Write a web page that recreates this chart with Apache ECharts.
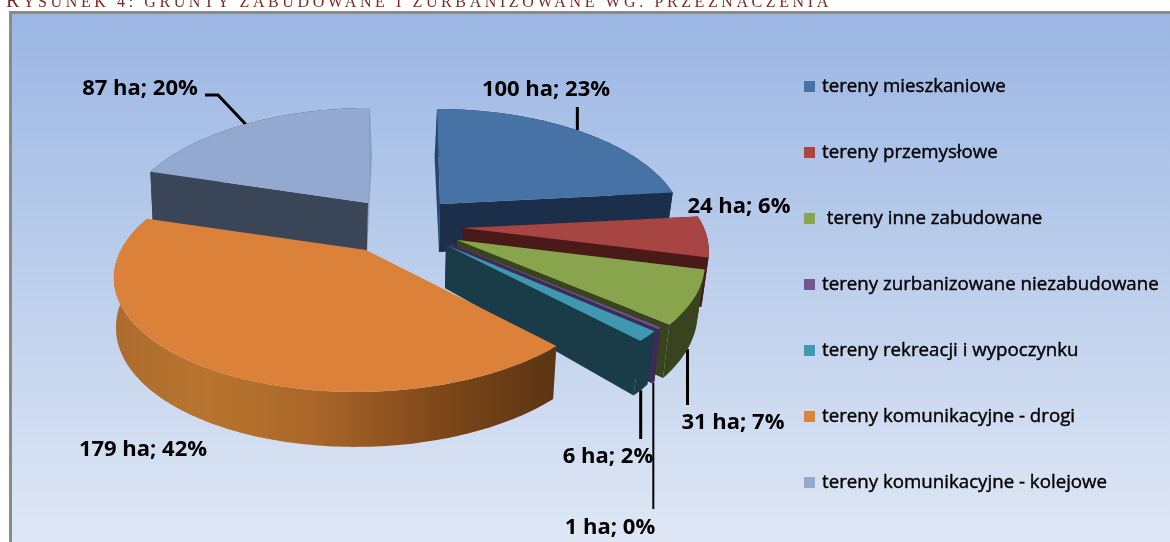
<!DOCTYPE html>
<html>
<head>
<meta charset="utf-8">
<title>Rysunek 4</title>
<script src="https://cdn.jsdelivr.net/npm/echarts@6/dist/echarts.min.js"></script>
<style>
html, body { margin: 0; padding: 0; background: #fff; overflow: hidden; }
#chart { position: absolute; left: 0; top: 0; width: 1170px; height: 542px; }
#caption {
    position: absolute; left: 6px; top: -11px; z-index: 2; white-space: nowrap;
    font: 16px "Liberation Serif", serif; letter-spacing: 3.6px; color: #7b2a22;
}
#caption b { font-weight: normal; font-size: 20px; }
</style>
</head>
<body>
<div id="caption"><b>R</b>YSUNEK 4: GRUNTY ZABUDOWANE I ZURBANIZOWANE WG. PRZEZNACZENIA</div>
<div id="chart"></div>
<script>
// values
const categories = ['tereny mieszkaniowe', 'tereny przemysłowe', ' tereny inne zabudowane',
    'tereny zurbanizowane niezabudowane', 'tereny rekreacji i wypoczynku',
    'tereny komunikacyjne - drogi', 'tereny komunikacyjne - kolejowe']
const hectares = [100, 24, 31, 1, 6, 179, 87]
const percents = [23, 6, 7, 0, 2, 42, 20]

const topColors = ['#4672a6', '#a74543', '#88a44c', '#6f5290', '#3f97b0', '#db8139', '#93a9cf']
const legendColors = ['#4572a7', '#aa4643', '#89a54e', '#71588f', '#4198af', '#db843d', '#93a9cf']
const cutColors = ['#1b2f4a', '#4a1a18', '#39441e', '#3b2c55', '#1a3c48', '#5a3514', '#3a4557']
const rimColors = ['#1b2f4a', '#6e2220', '#39441e', '#3b2c55', '#1a3c48', null, '#3a4557']

// exploded slices: where each apex sits and how it is projected
const sliceLayout = [
    {ax: 440, ay: 204, a: 239, lean: -3, depth: 48, sag: 10, shrink: 0.025, cutShift: -1.5, cuts: true},
    {ax: 463, ay: 228, a: 241, lean: 0, depth: 47, sag: 10, shrink: 0.025, cutShift: 0, cuts: true},
    {ax: 457, ay: 240, a: 243, lean: 0, depth: 47, sag: 10, shrink: 0.025, cutShift: 0, cuts: true},
    {ax: 450, ay: 243, a: 241, lean: 0, depth: 45, sag: 14, shrink: 0.025, cutShift: 0, cuts: true},
    {ax: 446, ay: 245, a: 241, lean: 0, depth: 43, sag: 16, shrink: 0.03, cutShift: 0, cuts: true},
    {ax: 366, ay: 250, a: 245, lean: 10, depth: 48, sag: 7, shrink: 0.012, cutShift: 0, cuts: false},
    {ax: 368, ay: 203, a: 241, lean: 2, depth: 49, sag: 0, shrink: 0.015, cutShift: 3, cuts: true}
]
const drawOrder = [1, 2, 3, 4, 5, 6, 0]
const ellipseB = 113.8
const perspective = 0.198

const labelPos = [[546, 90], [739, 207], [733, 423], [610, 528], [608, 457], [143, 450], [140, 89]]
// leader ends, the start is taken from the rim at the middle of the slice
const leaderEnds = [[[null, 107]], null, [[null, 405]], [[null, 509]], [[null, 439]], null, [[218, 95], [205, 95]]]
const leaderWidths = [3, 0, 3, 2, 3, 0, 3]

const total = hectares.reduce((s, v) => s + v, 0)

function project(i, deg) {
    let l = sliceLayout[i]
    let t = deg * Math.PI / 180
    let u = Math.sin(t), v = Math.cos(t)
    let s = 1 / (1 + perspective * v)
    return {
        x: l.ax + l.a * u * s + l.lean * v,
        y: l.ay - ellipseB * v * s,
        v: v
    }
}

function lower(i, p) {
    let l = sliceLayout[i]
    return [l.ax + (p.x - l.ax) * (1 - l.shrink) - 1, p.y + l.depth - l.sag * Math.min(p.v, 0)]
}

function renderSlice(i, api) {
    let l = sliceLayout[i]
    let before = 0
    for (let k = 0; k < i; k++) before += hectares[k]
    let start = before / total * 360
    let end = start + api.value(0) / total * 360

    let rim = []
    let n = Math.max(2, Math.ceil(end - start))
    for (let k = 0; k <= n; k++) rim.push(project(i, start + (end - start) * k / n))
    let topRim = rim.map(p => [p.x, p.y])
    let lowRim = rim.map(p => lower(i, p))
    let apex = [l.ax, l.ay]
    let apexLow = [l.ax - 1, l.ay + l.depth]

    let children = []

    // leader goes under the slice
    if (leaderEnds[i]) {
        let mid = project(i, (start + end) / 2)
        let from = mid.v < 0 ? lower(i, mid) : [mid.x, mid.y]
        let pts = [from].concat(leaderEnds[i].map(p => [p[0] === null ? from[0] : p[0], p[1]]))
        children.push({
            type: 'polyline',
            shape: {points: pts},
            style: {stroke: '#000', lineWidth: leaderWidths[i], fill: null}
        })
    }

    // outer wall
    let rimFill = rimColors[i]
    if (rimFill === null) {
        rimFill = {
            type: 'linear', x: 118, y: 0, x2: 556, y2: 0, global: true,
            colorStops: [
                {offset: 0, color: '#ad6c2e'},
                {offset: 0.2, color: '#b8752f'},
                {offset: 0.45, color: '#a96629'},
                {offset: 0.75, color: '#7c4619'},
                {offset: 1, color: '#5a3514'}
            ]
        }
    }
    children.push({
        type: 'polygon',
        shape: {points: topRim.concat(lowRim.slice().reverse())},
        style: {fill: rimFill}
    })

    // the two cut faces, the one further back first
    if (l.cuts) {
        let cuts = [0, n]
        if (rim[n].v > rim[0].v) cuts.reverse()
        cuts.forEach(k => {
            let back = rim[k].v > 0.6
            let low = lowRim[k]
            let fill = cutColors[i]
            if (back && i === 0) fill = '#26466e'
            if (back && i === 6) fill = '#87a1c6'
            children.push({
                type: 'polygon',
                shape: {points: [topRim[k], apex, apexLow, [low[0] + (back ? l.cutShift : 0), low[1]]]},
                style: {fill: fill}
            })
        })
    }

    // top face
    children.push({
        type: 'polygon',
        shape: {points: [apex].concat(topRim)},
        style: {fill: topColors[i]}
    })

    children.push({
        type: 'text',
        style: {
            text: api.value(0) + ' ha; ' + percents[i] + '%',
            x: labelPos[i][0], y: labelPos[i][1],
            align: 'center', verticalAlign: 'middle',
            font: 'bold 22px "Open Sans", sans-serif',
            fill: '#000'
        }
    })
    return {type: 'group', children: children}
}

let chart = echarts.init(document.getElementById('chart'))
chart.setOption({
    animation: false,
    graphic: [{
        type: 'rect',
        z: -10,
        shape: {x: 10.5, y: 12.5, width: 1170, height: 540},
        style: {
            fill: {
                type: 'linear', x: 0, y: 0, x2: 0, y2: 1,
                colorStops: [{offset: 0, color: '#9bb6e3'}, {offset: 1, color: '#e0e8f5'}]
            },
            stroke: '#8a8a8a',
            lineWidth: 3
        }
    }],
    legend: {
        orient: 'vertical',
        left: 799,
        top: 70,
        itemWidth: 11,
        itemHeight: 11,
        itemGap: 43,
        icon: 'rect',
        selectedMode: false,
        data: categories,
        textStyle: {
            fontFamily: 'Open Sans',
            fontSize: 18.7,
            color: '#000',
            textBorderColor: '#000',
            textBorderWidth: 0.4,
            padding: [0, 0, 0, 2],
            lineHeight: 23
        }
    },
    series: categories.map((name, i) => ({
        type: 'custom',
        name: name,
        coordinateSystem: 'none',
        z: 2 + drawOrder[i],
        silent: true,
        itemStyle: {color: legendColors[i]},
        data: [[hectares[i]]],
        renderItem: (params, api) => renderSlice(i, api)
    }))
})
</script>
</body>
</html>
